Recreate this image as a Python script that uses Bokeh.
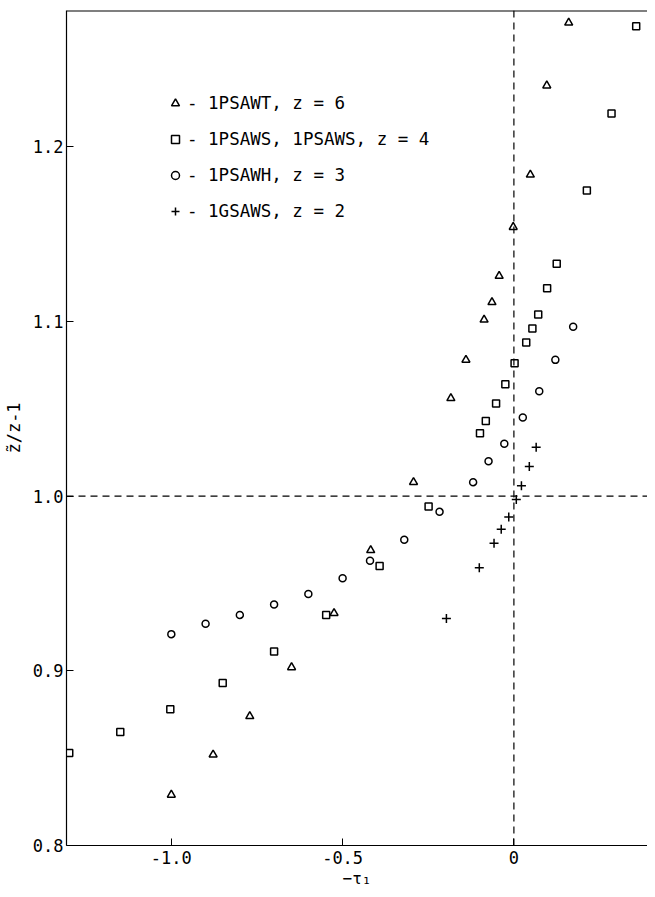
from bokeh.plotting import figure
from bokeh.models import Span, Legend, LegendItem, FixedTicker, Range1d
from bokeh.embed import file_html
from bokeh.resources import INLINE

# Data
tri_x = [-1.0, -0.878, -0.771, -0.649, -0.525, -0.418, -0.293, -0.184, -0.14, -0.087, -0.064, -0.043, -0.002, 0.048, 0.096, 0.16]
tri_y = [0.829, 0.852, 0.874, 0.902, 0.933, 0.969, 1.008, 1.056, 1.078, 1.101, 1.111, 1.126, 1.154, 1.184, 1.235, 1.271]

sq_x = [-1.298, -1.149, -1.003, -0.85, -0.70, -0.548, -0.392, -0.249, -0.099, -0.082, -0.052, -0.025, 0.002, 0.036, 0.054, 0.071, 0.097, 0.125, 0.213, 0.285, 0.357]
sq_y = [0.853, 0.865, 0.878, 0.893, 0.911, 0.932, 0.960, 0.994, 1.036, 1.043, 1.053, 1.064, 1.076, 1.088, 1.096, 1.104, 1.119, 1.133, 1.175, 1.219, 1.269]

ci_x = [-1.0, -0.9, -0.8, -0.7, -0.6, -0.5, -0.42, -0.32, -0.217, -0.119, -0.074, -0.028, 0.026, 0.074, 0.121, 0.173]
ci_y = [0.921, 0.927, 0.932, 0.938, 0.944, 0.953, 0.963, 0.975, 0.991, 1.008, 1.020, 1.030, 1.045, 1.060, 1.078, 1.097]

pl_x = [-0.197, -0.101, -0.058, -0.037, -0.015, 0.007, 0.022, 0.045, 0.065]
pl_y = [0.930, 0.959, 0.973, 0.981, 0.988, 0.998, 1.006, 1.017, 1.028]

x_ticks = [-1.0, -0.5, 0.0]
x_tick_labels = ["-1.0", "-0.5", "0"]
y_ticks = [0.8, 0.9, 1.0, 1.1, 1.2]
y_tick_labels = ["0.8", "0.9", "1.0", "1.1", "1.2"]

legend_labels = ["- 1PSAWT, z = 6", "- 1PSAWS, 1PSAWS, z = 4", "- 1PSAWH, z = 3", "- 1GSAWS, z = 2"]

X_MIN, X_MAX = -1.306, 0.39
Y_MIN, Y_MAX = 0.8, 1.278

FONT = "DejaVu Sans Mono"

p = figure(width=647, height=891, output_backend="svg", toolbar_location=None,
           x_range=Range1d(X_MIN, X_MAX), y_range=Range1d(Y_MIN, Y_MAX),
           min_border_left=60, min_border_right=0, min_border_top=10, min_border_bottom=46)
p.outline_line_color = None
p.xgrid.visible = False
p.ygrid.visible = False
p.background_fill_color = "white"

for ax in (p.xaxis[0], p.yaxis[0]):
    ax.major_tick_in = 7
    ax.major_tick_out = 0
    ax.minor_tick_line_color = None
    ax.axis_line_color = "black"
    ax.axis_line_width = 1.2
    ax.major_tick_line_color = "black"
    ax.major_label_text_font = FONT
    ax.major_label_text_font_size = "17px"
    ax.major_label_text_color = "black"
    ax.axis_label_text_font = FONT
    ax.axis_label_text_font_style = "normal"
    ax.axis_label_text_color = "black"

p.xaxis.ticker = FixedTicker(ticks=x_ticks)
p.xaxis.major_label_overrides = {t: l for t, l in zip(x_ticks, x_tick_labels)}
p.xaxis.major_label_standoff = 5
p.xaxis.axis_label = "\u2212\u03c4\u2081"
p.xaxis.axis_label_text_font_size = "16px"
p.xaxis.axis_label_standoff = 2

p.yaxis.ticker = FixedTicker(ticks=y_ticks)
p.yaxis.major_label_overrides = {t: l for t, l in zip(y_ticks, y_tick_labels)}
p.yaxis.major_label_standoff = 3
p.yaxis.axis_label = "z\u0303/z-1"
p.yaxis.axis_label_text_font_size = "17px"
p.yaxis.axis_label_standoff = 6

# top border line and dashed reference lines
p.add_layout(Span(location=Y_MAX, dimension="width", line_color="black", line_width=2))
p.add_layout(Span(location=0.0, dimension="height", line_color="black", line_width=1.2, line_dash="7 5"))
p.add_layout(Span(location=1.0, dimension="width", line_color="black", line_width=1.2, line_dash="7 5"))

common = dict(fill_color=None, line_color="black", line_width=1.5)
r_tri = p.scatter(tri_x, tri_y, marker="triangle", size=8, **common)
r_sq = p.scatter(sq_x, sq_y, marker="square", size=7, **common)
r_ci = p.scatter(ci_x, ci_y, marker="circle", size=7, **common)
r_pl = p.scatter(pl_x, pl_y, marker="cross", size=9, line_color="black", line_width=1.5)

legend = Legend(items=[LegendItem(label=legend_labels[0], renderers=[r_tri]),
                       LegendItem(label=legend_labels[1], renderers=[r_sq]),
                       LegendItem(label=legend_labels[2], renderers=[r_ci]),
                       LegendItem(label=legend_labels[3], renderers=[r_pl])],
                location=(99, 624), padding=0, margin=0, spacing=16,
                glyph_width=20, glyph_height=20, label_height=20, label_standoff=2,
                border_line_color=None, background_fill_alpha=0,
                label_text_font=FONT, label_text_font_size="17.5px", label_text_color="black")
p.add_layout(legend)

open("out.html", "w").write(file_html(p, INLINE))
